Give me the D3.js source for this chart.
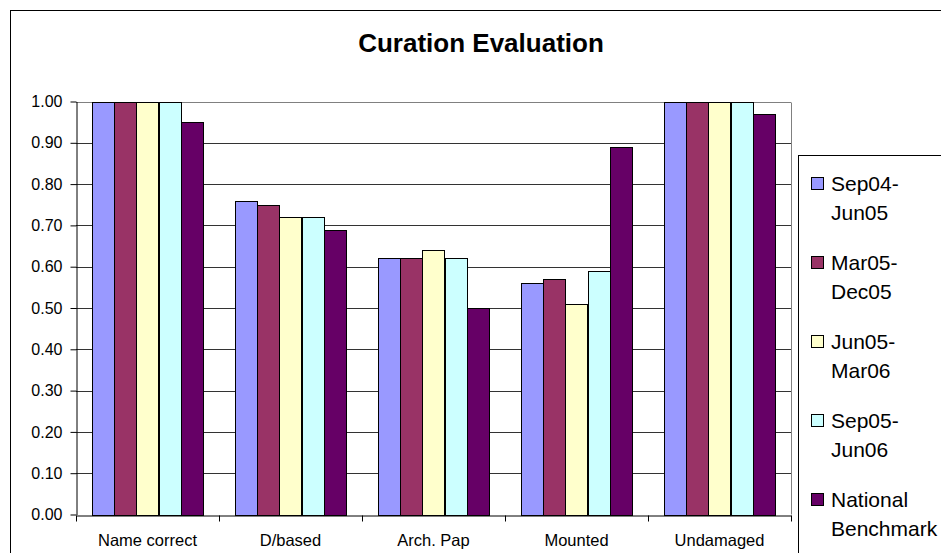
<!DOCTYPE html>
<html>
<head>
<meta charset="utf-8">
<script src="https://cdnjs.cloudflare.com/ajax/libs/d3/7.8.5/d3.min.js"></script>
<style>
body { margin: 0; background: #fff; overflow: hidden; }
text { font-family: "Liberation Sans", Arial, sans-serif; fill: #000; }
</style>
</head>
<body>
<div id="chart"></div>
<script>
// chart data
var categories = ["Name correct", "D/based", "Arch. Pap", "Mounted", "Undamaged"];
var seriesNames = ["Sep04-Jun05", "Mar05-Dec05", "Jun05-Mar06", "Sep05-Jun06", "National Benchmark"];
var legendLines = [["Sep04-", "Jun05"], ["Mar05-", "Dec05"], ["Jun05-", "Mar06"], ["Sep05-", "Jun06"], ["National", "Benchmark"]];
var sep04Jun05 = [1.00, 0.76, 0.62, 0.56, 1.00];
var mar05Dec05 = [1.00, 0.75, 0.62, 0.57, 1.00];
var jun05Mar06 = [1.00, 0.72, 0.64, 0.51, 1.00];
var sep05Jun06 = [1.00, 0.72, 0.62, 0.59, 1.00];
var nationalBenchmark = [0.95, 0.69, 0.50, 0.89, 0.97];
var colors = ["#9999FF", "#993366", "#FFFFCC", "#CCFFFF", "#660066"];
var yTicks = [0, 0.1, 0.2, 0.3, 0.4, 0.5, 0.6, 0.7, 0.8, 0.9, 1.0];

var allSeries = [sep04Jun05, mar05Dec05, jun05Mar06, sep05Jun06, nationalBenchmark];

var width = 941, height = 553;
// plot area edges (note: "top" is a reserved window global)
var plotLeft = 76, plotRight = 791, plotTop = 101.5, plotBottom = 514.5;

var svg = d3.select('#chart').append('svg')
    .attr("width", width)
    .attr("height", height)

// outer chart border
svg.append("rect")
    .attr("x", 10.5).attr("y", 10.5)
    .attr("width", 960).attr("height", 600)
    .attr("fill", "#fff").attr("stroke", "#000")

svg.append("text")
    .attr("x", 481).attr("y", 52)
    .attr("text-anchor", "middle")
    .style("font-size", "26px").style("font-weight", "bold")
    .text("Curation Evaluation")

var x0 = d3.scaleBand().domain(categories).range([plotLeft, plotRight]);
var x1 = d3.scaleBand().domain(seriesNames)
    .range([x0.bandwidth() * 0.115, x0.bandwidth() * 0.885]);
var y = d3.scaleLinear().domain([0, 1]).range([plotBottom, plotTop]);

// gridlines
svg.append("g").selectAll("line")
    .data(yTicks.filter(d => d > 0))
    .enter().append("line")
    .attr("x1", plotLeft).attr("x2", plotRight)
    .attr("y1", d => Math.round(y(d)) + 0.5).attr("y2", d => Math.round(y(d)) + 0.5)
    .attr("stroke", d => d == 1 ? "#808080" : "#333")

// plot area right border
svg.append("line")
    .attr("x1", plotRight + 0.5).attr("x2", plotRight + 0.5)
    .attr("y1", Math.round(y(1)) + 0.5).attr("y2", plotBottom)
    .attr("stroke", "#808080")

// bars
var groups = svg.append("g").selectAll("g")
    .data(categories)
    .enter().append("g")
    .attr("transform", d => "translate(" + x0(d) + ",0)")

groups.selectAll("rect")
    .data((c, ci) => seriesNames.map((s, si) => ({ s: s, si: si, v: allSeries[si][ci] })))
    .enter().append("rect")
    .attr("x", d => Math.round(x1(d.s)) + 0.5)
    .attr("y", d => Math.round(y(d.v)) + 0.5)
    .attr("width", Math.round(x1.bandwidth()))
    .attr("height", d => Math.round(y(0)) - Math.round(y(d.v)))
    .attr("fill", d => colors[d.si])
    .attr("stroke", "#000")

// y axis
var yAxis = svg.append("g")
    .attr("transform", "translate(" + (plotLeft + 0.5) + ",0)")
    .call(d3.axisLeft(y).tickValues(yTicks).tickFormat(d3.format(".2f"))
        .tickSize(6).tickSizeOuter(0).tickPadding(8))
yAxis.selectAll("text").style("font-size", "16px").attr("font-family", null)
yAxis.select(".domain").attr("stroke", "#000")

// x axis: labels centred, ticks at category boundaries
var xAxis = svg.append("g")
    .attr("transform", "translate(0," + (Math.round(y(0)) + 0.5) + ")")
    .call(d3.axisBottom(x0).tickSize(0).tickPadding(19).tickSizeOuter(0))
xAxis.selectAll("text").style("font-size", "16.5px").attr("font-family", null)
xAxis.selectAll(".tick line").remove()

var bounds = categories.map(c => x0(c)).concat([x0.range()[1]]);
xAxis.selectAll(".bound")
    .data(bounds)
    .enter().append("line")
    .attr("class", "bound")
    .attr("x1", d => Math.round(d) + 0.5).attr("x2", d => Math.round(d) + 0.5)
    .attr("y1", 0).attr("y2", 6)
    .attr("stroke", "#000")

// legend
svg.append("rect")
    .attr("x", 798.5).attr("y", 155.5)
    .attr("width", 200).attr("height", 450)
    .attr("fill", "#fff").attr("stroke", "#000")

var legend = svg.append("g").selectAll("g")
    .data(legendLines)
    .enter().append("g")
    .attr("transform", (d, i) => "translate(0," + (191 + i * 79) + ")")

legend.append("rect")
    .attr("x", 811.5).attr("y", -13.5)
    .attr("width", 12).attr("height", 12)
    .attr("fill", (d, i) => colors[i])
    .attr("stroke", "#000")

legend.append("text")
    .attr("x", 831)
    .style("font-size", "21px")
    .selectAll("tspan")
    .data(d => d)
    .enter().append("tspan")
    .attr("x", 831)
    .attr("dy", (d, i) => i == 0 ? 0 : 29)
    .text(d => d)
</script>
</body>
</html>
